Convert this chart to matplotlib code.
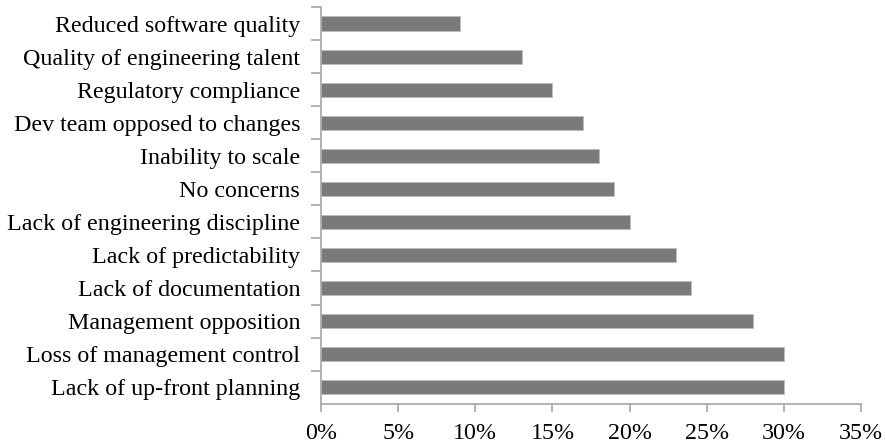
import matplotlib
matplotlib.use("Agg")
import matplotlib.pyplot as plt
from matplotlib.ticker import MultipleLocator, FixedLocator, FuncFormatter

# Concerns about agile adoption (share of respondents, %)
categories = [
    "Lack of up-front planning",
    "Loss of management control",
    "Management opposition",
    "Lack of documentation",
    "Lack of predictability",
    "Lack of engineering discipline",
    "No concerns",
    "Inability to scale",
    "Dev team opposed to changes",
    "Regulatory compliance",
    "Quality of engineering talent",
    "Reduced software quality",
]
values = [30, 30, 28, 24, 23, 20, 19, 18, 17, 15, 13, 9]

plt.rcParams["font.family"] = ["Liberation Serif", "DejaVu Serif"]

fig = plt.figure(figsize=(8.86, 4.47), dpi=100)
ax = fig.add_axes([0.3623, 0.0969, 0.6095, 0.8873])

ypos = list(range(len(categories)))
ax.barh(ypos, values, height=0.43, color="#7a7a7a", edgecolor="#bdbdbd", linewidth=0.6)

ax.set_xlim(0, 35)
ax.set_ylim(-0.5, len(categories) - 0.5)

axis_color = "#a6a6a6"
for side in ("top", "right"):
    ax.spines[side].set_visible(False)
for side in ("left", "bottom"):
    ax.spines[side].set_color(axis_color)
    ax.spines[side].set_linewidth(1.2)

ax.xaxis.set_major_locator(MultipleLocator(5))
ax.xaxis.set_major_formatter(FuncFormatter(lambda v, p: f"{int(round(v))}%"))
ax.tick_params(axis="x", direction="out", length=6, width=1.2, color=axis_color,
               labelsize=17.3, pad=8, labelcolor="black")

# category labels sit at bar centres, tick marks on the category boundaries
ax.set_yticks(ypos)
ax.set_yticklabels(categories)
ax.tick_params(axis="y", which="major", length=0, labelsize=17.3, pad=15, labelcolor="black")
ax.yaxis.set_minor_locator(FixedLocator([y + 0.5 for y in ypos]))
ax.tick_params(axis="y", which="minor", direction="out", length=7, width=1.2, color=axis_color)

fig.savefig("out.png", dpi=100)
